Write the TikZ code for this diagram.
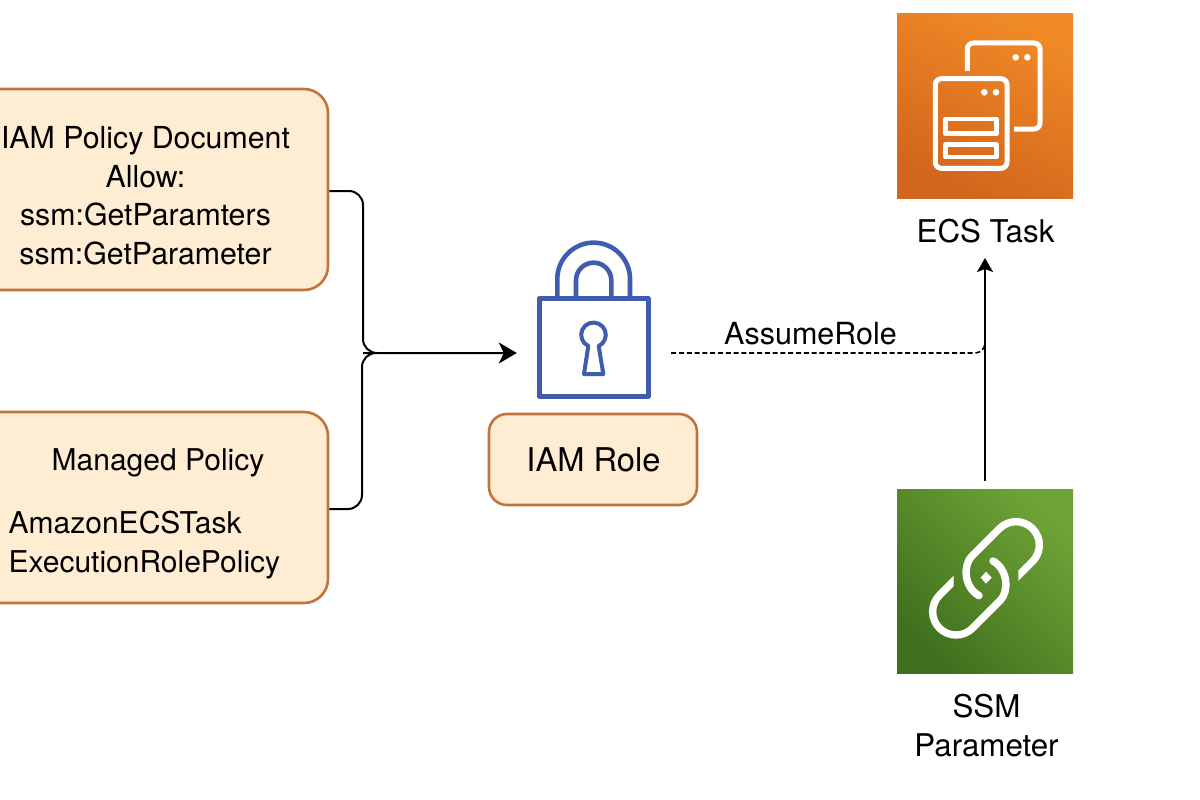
\documentclass[tikz,border=0pt]{standalone}
\usepackage{fontspec}
\setmainfont{TeX Gyre Heros}
\usetikzlibrary{arrows.meta}
\definecolor{boxfill}{HTML}{FFEDD3}
\definecolor{boxline}{HTML}{C0743C}
\definecolor{lockblue}{HTML}{3F5CAE}
\definecolor{orangeA}{HTML}{EF8A27}
\definecolor{orangeB}{HTML}{D2651C}
\definecolor{greenA}{HTML}{6FA236}
\definecolor{greenB}{HTML}{3F701E}
\tikzset{
  policybox/.style={draw=boxline,fill=boxfill,line width=2.6pt,rounded corners=24pt,inner sep=0pt},
  lbl/.style={font=\fontsize{30}{38.5}\selectfont,text=black,inner sep=0pt,align=center},
  lockline/.style={draw=lockblue,line join=round},
  whiteline/.style={draw=white,line join=round},
  tile/.style={inner sep=0pt,minimum width=176pt},
  conn/.style={draw=black,line width=2pt,rounded corners=14pt},
  tipbig/.style={-{Stealth[length=18pt,width=21pt,inset=5pt]}},
  tipsmall/.style={-{Stealth[length=14pt,width=16pt,inset=3pt]}},
}
\begin{document}
\begin{tikzpicture}[x=1pt,y=-1pt]
\useasboundingbox (0,0) rectangle (1200,800);
\fill[white] (0,0) rectangle (1200,800);
% policy boxes
\node[policybox,minimum width=364pt,minimum height=201pt] (pdoc) at (146,189.5) {};
\node[lbl,font=\fontsize{30.3}{38.5}\selectfont] (pdoctext) at (145.5,195.5) {IAM Policy Document\\Allow:\\ssm:GetParamters\\ssm:GetParameter};
\node[policybox,minimum width=364pt,minimum height=191pt] (pman) at (146,507.5) {};
\node[lbl] (pmantitle) at (158,463) {Managed Policy};
\node[lbl,align=left,anchor=west] (pmantext) at (8.5,545) {AmazonECSTask\\ExecutionRolePolicy};
% role
\node[policybox,rounded corners=18pt,minimum width=208pt,minimum height=91pt] (role) at (593,459.5) {};
\node[lbl,font=\fontsize{32.7}{38}\selectfont] (roletext) at (593.5,460) {IAM Role};
% lock
\node[minimum width=154pt,minimum height=110pt,inner sep=0pt] (lock) at (594,353) {};
\draw[lockline,line width=5pt] (539.3,298.3) rectangle (648,396);
\draw[lockline,line width=4.6pt] (557.3,298.3) -- (557.3,279) arc[start angle=180,end angle=360,radius=36.35] -- (630,298.3);
\draw[lockline,line width=4.6pt] (576,298.3) -- (576,280.3) arc[start angle=180,end angle=360,radius=17.65] -- (611.3,298.3);
\draw[lockline,line width=4pt] (588.3,346) arc[start angle=115,end angle=425,radius=12.3] -- (603.3,374) -- (584,374) -- cycle;
% ECS tile
\node[tile,minimum height=184pt,top color=orangeA,bottom color=orangeB,shading angle=-25] (ecs) at (985,106) {};
\node[lbl,font=\fontsize{31.3}{38}\selectfont] (ecstext) at (985.5,231) {ECS Task};
\draw[whiteline,line width=5pt] (967.3,71) -- (967.3,49) arc[start angle=180,end angle=270,radius=6] -- (1034,43) arc[start angle=270,end angle=360,radius=6] -- (1040,123) arc[start angle=0,end angle=90,radius=6] -- (1014,129);
\draw[whiteline,line width=5pt,rounded corners=6pt] (935.3,78.7) rectangle (1007,168.3);
\draw[whiteline,line width=4.6pt] (945.7,119) rectangle (996.7,133.7);
\draw[whiteline,line width=4.6pt] (945.7,144.7) rectangle (996.7,157);
\foreach \dx/\dy in {984.3/92.3,996/92.3,1015.7/57.3,1027.3/57.3}
  \fill[white] (\dx,\dy) circle[radius=3.3];
% SSM tile
\node[tile,minimum height=184pt,top color=greenA,bottom color=greenB,shading angle=-45] (ssm) at (985,581.5) {};
\node[lbl,font=\fontsize{31.3}{39}\selectfont] (ssmtext) at (986.5,725.5) {SSM\\Parameter};
\begin{scope}[shift={(880,480)},scale=1/3]
  \foreach \ang in {0,180} {
    \begin{scope}[rotate around={\ang:(318,295)},even odd rule]
      \clip (-200,-200) rectangle (800,800) (385,265) rectangle (415,325);
      \draw[whiteline,line width=7.4pt,line cap=round] (398,304) -- (457.5,244.5) arc[start angle=45,end angle=-135,radius=70] -- (275,229) .. controls (250,254) and (250,320) .. (297,347);
    \end{scope}
  }
  \fill[white] (318,275) -- (335,293) -- (318,311) -- (302,293) -- cycle;
\end{scope}
% connectors
\coordinate (jn) at (363,353);
\coordinate (ecstip) at (985,258);
\draw[conn,tipbig] ([yshift=-1.5pt]pdoc.east) -| (jn) -- (lock.west);
\draw[conn] ([yshift=-1.5pt]pman.east) -| (362,353) -- (jn);
\draw[conn,tipsmall,rounded corners=0pt,shorten <=8pt] (ssm.north) -- (ecstip);
\draw[draw=black,line width=1.6pt,dash pattern=on 5pt off 2.8pt,rounded corners=10pt] (lock.east) -- (985,353) -- (985,340);
\node[lbl,font=\fontsize{30.5}{36}\selectfont] (assume) at (810.5,334) {AssumeRole};
\end{tikzpicture}
\end{document}
